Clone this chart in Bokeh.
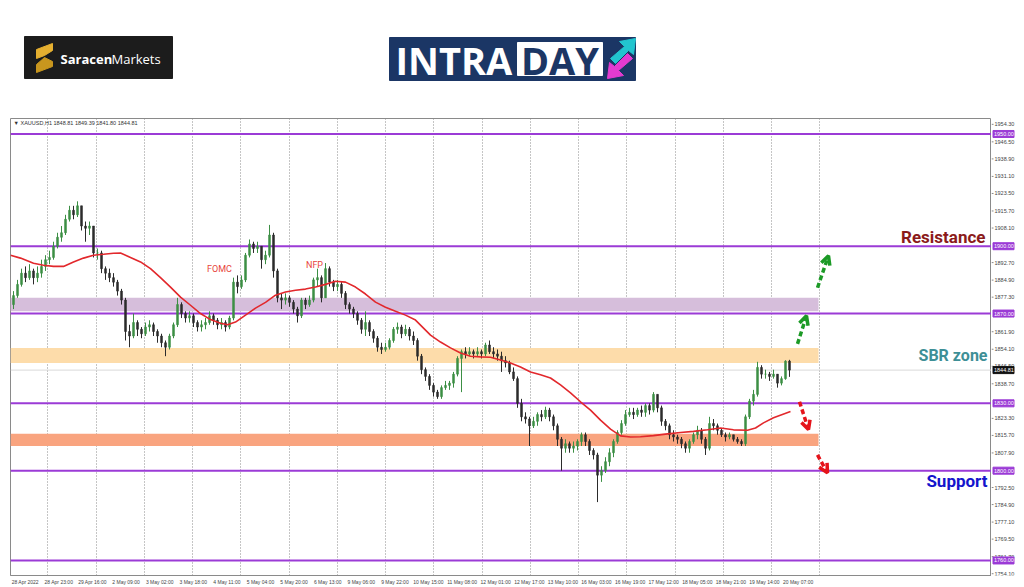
from bokeh.plotting import figure
from bokeh.layouts import column, row
from bokeh.models import (Range1d, FixedTicker, Span, Label, Arrow, OpenHead,
                          ColumnDataSource, BoxAnnotation)
from bokeh.core.properties import value
from bokeh.embed import file_html
from bokeh.resources import INLINE

# ---------------- data (2-hour candles) ----------------
first_open = 1874.0
closes = [1878, 1883, 1888, 1886, 1889, 1886, 1888, 1891, 1894, 1895,
          1900, 1904, 1906, 1912, 1916, 1914, 1918, 1909, 1908, 1909,
          1897, 1897, 1890, 1888, 1886, 1884, 1880, 1876, 1862, 1860,
          1866, 1863, 1861, 1864, 1865, 1862, 1860, 1857, 1855, 1860,
          1865, 1874, 1870, 1868, 1869, 1866, 1864, 1865, 1866, 1869,
          1867, 1865, 1866, 1864, 1868, 1884, 1882, 1885, 1896, 1901,
          1899, 1900, 1894, 1896, 1905, 1889, 1877, 1876, 1877, 1875,
          1872, 1869, 1876, 1874, 1876, 1885, 1886, 1877, 1890, 1884,
          1882, 1883, 1879, 1874, 1872, 1870, 1867, 1863, 1866, 1862,
          1859, 1855, 1854, 1855, 1858, 1863, 1864, 1861, 1863, 1860,
          1858, 1851, 1845, 1842, 1838, 1835, 1833, 1837, 1838, 1839,
          1843, 1850, 1853, 1852, 1853, 1852, 1853, 1852, 1856, 1853,
          1852, 1851, 1849, 1848, 1844, 1841, 1830, 1824, 1823, 1820,
          1822, 1825, 1824, 1827, 1824, 1820, 1814, 1810, 1812, 1810,
          1811, 1813, 1816, 1813, 1809, 1807, 1798, 1800, 1804, 1808,
          1813, 1817, 1821, 1825, 1826, 1825, 1827, 1826, 1829, 1827,
          1834, 1828, 1822, 1820, 1816, 1815, 1814, 1812, 1810, 1813,
          1816, 1818, 1814, 1810, 1821, 1820, 1818, 1816, 1815, 1816,
          1814, 1813, 1812, 1824, 1831, 1834, 1846, 1843, 1843, 1842,
          1843, 1839, 1841, 1848.81, 1844.81]
highs = [1880, 1885, 1890, 1891, 1892, 1890, 1891, 1894, 1896, 1898,
         1902, 1906, 1909, 1914, 1918, 1918, 1920, 1918, 1911, 1911,
         1909, 1899, 1898, 1891, 1890, 1888, 1885, 1881, 1877, 1865,
         1870, 1867, 1864, 1866, 1867, 1866, 1863, 1861, 1858, 1861,
         1866, 1877, 1875, 1871, 1871, 1870, 1867, 1867, 1868, 1871,
         1870, 1868, 1868, 1867, 1869, 1886, 1887, 1887, 1897, 1903,
         1902, 1902, 1900, 1898, 1909.5, 1906, 1890, 1879, 1879, 1878,
         1876, 1873, 1877, 1877, 1878, 1886, 1890, 1887, 1892.5, 1891,
         1885, 1885, 1884, 1880, 1875, 1873, 1871, 1868, 1871, 1867,
         1863, 1860, 1857, 1857, 1859, 1864, 1866, 1865, 1865, 1864,
         1862, 1859, 1852, 1846, 1843, 1839, 1836, 1838, 1840, 1840,
         1844, 1851, 1854, 1855, 1855, 1854, 1855, 1854, 1857, 1858,
         1855, 1854, 1853, 1851, 1849, 1846, 1842, 1832, 1826, 1824,
         1824, 1826, 1827, 1828.5, 1828, 1825, 1821, 1815, 1814, 1813,
         1813, 1814, 1817, 1817, 1814, 1810, 1808, 1802, 1806, 1810,
         1814, 1818, 1822.5, 1827, 1828, 1828, 1828, 1829, 1830, 1830,
         1835, 1834, 1829, 1823, 1821, 1818, 1816, 1815, 1813, 1814,
         1817, 1820, 1819, 1815, 1824, 1823, 1821, 1819, 1817, 1817,
         1816, 1815, 1814, 1825, 1832, 1836, 1848.5, 1847, 1845, 1844,
         1845, 1843, 1842, 1849.2, 1849.39]
lows = [1872, 1877, 1882, 1884, 1885, 1883, 1884, 1886, 1889, 1892,
        1894, 1899, 1902, 1905, 1911, 1912, 1913, 1907, 1902, 1905,
        1895, 1894, 1888, 1885, 1884, 1882, 1878, 1874, 1858, 1855,
        1859, 1860, 1859, 1860, 1862, 1860, 1857, 1855, 1851, 1854,
        1859, 1864, 1868, 1866, 1866, 1864, 1862, 1862, 1863, 1865,
        1865, 1863, 1863, 1862, 1863, 1867, 1879, 1881, 1884, 1895,
        1897, 1897, 1890, 1892, 1895, 1886, 1875, 1872, 1874, 1873,
        1870, 1866, 1868, 1872, 1873, 1875, 1882, 1875, 1877, 1882,
        1880, 1880, 1877, 1872, 1870, 1868, 1865, 1861, 1860, 1860,
        1857, 1853, 1852, 1853, 1854, 1857, 1861, 1859, 1860, 1858,
        1856, 1849, 1843, 1840, 1836, 1833, 1832, 1832, 1836, 1836,
        1837, 1842, 1835, 1850, 1851, 1850, 1851, 1850, 1851, 1852,
        1850, 1849, 1844, 1846, 1843, 1840, 1828, 1822, 1821, 1811,
        1819, 1820, 1822, 1823, 1822, 1818, 1811, 1800, 1808, 1808,
        1808, 1809, 1811, 1811, 1807, 1805, 1786, 1795, 1799, 1802,
        1806, 1812, 1816, 1820, 1824, 1823, 1824, 1824, 1824, 1825,
        1826, 1826, 1820, 1818, 1814, 1813, 1812, 1810, 1808, 1808,
        1812, 1814, 1812, 1807, 1809, 1818, 1816, 1815, 1813, 1814,
        1813, 1812, 1811, 1811, 1823, 1829, 1833, 1841, 1841, 1840,
        1841, 1837, 1838, 1840.5, 1841.80]

# moving average (bar index, price)
ma_x = [-0.75, 1.75, 5, 7.5, 10, 12.5, 15, 17.5, 20, 22.5, 25, 26.75, 29.25, 31.75,
        34.25, 36.75, 39.25, 41.75, 44.25, 46.75, 49.25, 51.75, 53.5, 55.5, 58, 60.5,
        63, 65.5, 68, 70.5, 73, 75.5, 78, 80.5, 83, 85.5, 88, 90.5, 93, 95.5, 98,
        100.5, 104.25, 106.75, 109.25, 111.75, 114.25, 116.75, 119.25, 121.75, 124.25,
        126.75, 129.25, 131.75, 134.25, 136.75, 139.25, 141.75, 144.25, 146.75, 149.25,
        151.75, 154.25, 156.75, 160, 163.5, 166.75, 170, 173.5, 176.75, 180, 183.5,
        185.5, 187.5, 190, 194.25]
ma_y = [1896, 1894.7, 1892.4, 1891.5, 1891, 1891, 1893, 1894.7, 1896, 1896.4, 1896.9,
        1897, 1895, 1893, 1890, 1886, 1881.8, 1877.3, 1873.7, 1870, 1867.3, 1865.7,
        1865, 1866.2, 1869.3, 1872.4, 1875, 1878.2, 1879.6, 1880.4, 1880.9, 1881.8,
        1883, 1884.4, 1884, 1881.8, 1878.7, 1875.1, 1872.8, 1871, 1869.3, 1867.1,
        1860.4, 1857.3, 1854.7, 1852.4, 1851, 1850.7, 1850.5, 1849.3, 1848, 1846.2,
        1844, 1842.7, 1841.3, 1838.2, 1834.7, 1830.7, 1827, 1822.5, 1818.5, 1815.5,
        1815, 1815.1, 1815.6, 1816.4, 1817, 1817.5, 1818.2, 1819, 1818.2, 1818, 1819,
        1821.3, 1823.6, 1826.4]

key_levels = [1950.0, 1900.0, 1870.0, 1830.0, 1800.0, 1760.0]
current_price = 1844.81
zone_bottoms = [1871.0, 1848.0, 1811.0]
zone_tops = [1877.0, 1854.7, 1816.5]
zone_colors = ["#d6bedb", "#fddcaa", "#f9a47f"]
zone_end = 201.25

y_ticks = [1954.30, 1946.50, 1938.90, 1931.10, 1923.50, 1915.70, 1908.10, 1892.70,
           1884.90, 1877.30, 1861.90, 1854.10, 1846.50, 1838.70, 1823.30, 1815.70,
           1807.90, 1792.50, 1784.90, 1777.10, 1769.50, 1761.70, 1754.10]
time_labels = ["28 Apr 2022", "28 Apr 23:00", "29 Apr 16:00", "2 May 09:00", "3 May 02:00",
               "3 May 18:00", "4 May 11:00", "5 May 04:00", "5 May 20:00", "6 May 13:00",
               "9 May 06:00", "9 May 22:00", "10 May 15:00", "11 May 08:00", "12 May 01:00",
               "12 May 17:00", "13 May 10:00", "16 May 03:00", "16 May 19:00", "17 May 12:00",
               "18 May 05:00", "18 May 21:00", "19 May 14:00", "20 May 07:00"]
LABEL_FIRST, LABEL_STEP = -0.25, 8.4
LABEL_CENTER_SHIFT = 3.2   # MT4 prints each time label to the right of its bar
GRID_FIRST, GRID_STEP, GRID_N = 8.6, 12.06, 17

# forecast arrows
arrow_x0 = [196.0, 201.0, 196.5, 201.0]
arrow_y0 = [1856.5, 1881.5, 1830.7, 1807.0]
arrow_x1 = [198.25, 203.75, 198.75, 203.5]
arrow_y1 = [1869.0, 1895.8, 1818.3, 1799.0]
arrow_colors = ["#1c9a26", "#1c9a26", "#e5141b", "#e5141b"]

PURPLE = "#9b3bd6"
GREY = "#8a8a8a"

# ---------------- candles ----------------
n = len(closes)
opens = [first_open] + closes[:-1]
idx = list(range(n))
hi = [max(h, o, c) for h, o, c in zip(highs, opens, closes)]
lo = [min(l, o, c) for l, o, c in zip(lows, opens, closes)]
body_top = [max(o, c) for o, c in zip(opens, closes)]
body_bot = [min(o, c) for o, c in zip(opens, closes)]
col = ["#3c8f44" if c >= o else "#2b2b2b" for o, c in zip(opens, closes)]
src = ColumnDataSource(dict(x=idx, hi=hi, lo=lo, top=body_top, bot=body_bot, col=col))

X0, X1 = -0.75, 244.5
Y0, Y1 = 1753.3, 1956.9
H_MAIN = 471
p = figure(width=991, height=H_MAIN, x_range=Range1d(X0, X1), y_range=Range1d(Y0, Y1),
           y_axis_location=None, toolbar_location=None, output_backend="svg",
           min_border_left=10, min_border_right=0, min_border_top=2, min_border_bottom=12)
p.background_fill_color = "white"
p.border_fill_color = "white"
p.outline_line_color = GREY
p.outline_line_width = 1

p.ygrid.visible = False
p.xgrid.ticker = FixedTicker(ticks=[round(GRID_FIRST + GRID_STEP * j, 2) for j in range(GRID_N)])
p.xgrid.grid_line_color = GREY
p.xgrid.grid_line_dash = "1 2"

label_pos = [round(LABEL_FIRST + LABEL_CENTER_SHIFT + LABEL_STEP * i, 2)
             for i in range(len(time_labels))]
p.xaxis.ticker = FixedTicker(ticks=label_pos)
p.xaxis.major_label_overrides = dict(zip(label_pos, time_labels))
p.xaxis.major_label_text_font_size = "5px"
p.xaxis.major_label_text_color = "#444444"
p.xaxis.major_label_standoff = 3
p.xaxis.major_tick_out = 0
p.xaxis.major_tick_in = 0
p.xaxis.minor_tick_out = 0
p.xaxis.minor_tick_in = 0
p.xaxis.axis_line_color = GREY

for b, t, c in zip(zone_bottoms, zone_tops, zone_colors):
    p.add_layout(BoxAnnotation(bottom=b, top=t, right=zone_end, fill_color=c, fill_alpha=1.0,
                               line_color=None, level="underlay"))
p.add_layout(Span(location=current_price, dimension="width", line_color="#d9d9d9",
                  line_width=1, level="underlay"))
for lv in key_levels:
    p.add_layout(Span(location=lv, dimension="width", line_color=PURPLE, line_width=2,
                      level="underlay"))

p.segment(x0="x", y0="hi", x1="x", y1="lo", color="col", line_width=1, source=src)
p.vbar(x="x", width=0.5, top="top", bottom="bot", fill_color="col", line_color="col",
       line_width=0.5, source=src)

p.line(ma_x, ma_y, line_color="#e2282c", line_width=1.6)

for x0, y0, x1, y1, c in zip(arrow_x0, arrow_y0, arrow_x1, arrow_y1, arrow_colors):
    p.add_layout(Arrow(x_start=x0, y_start=y0, x_end=x1, y_end=y1, line_color=c,
                       line_width=3.5, line_dash="5 3", start=None,
                       end=OpenHead(size=9, line_color=c, line_width=3.5)))

p.add_layout(Label(x=0, y=1954.7, text="\u25bc XAUUSD,H1  1848.81 1849.39 1841.80 1844.81",
                   text_baseline="middle", text_font_size="5.5px", text_color="#333333"))
p.add_layout(Label(x=51.5, y=1889.8, text="FOMC", text_align="center", text_baseline="middle",
                   text_font="Roboto", text_font_size="9px", text_color="#e8453c"))
p.add_layout(Label(x=75.25, y=1891.6, text="NFP", text_align="center", text_baseline="middle",
                   text_font="Roboto", text_font_size="9px", text_color="#e8453c"))
p.add_layout(Label(x=243.0, y=1904.0, text="Resistance", text_align="right",
                   text_baseline="middle", text_font="Roboto", text_font_style="bold",
                   text_font_size="17px", text_color="#8b1a1a"))
p.add_layout(Label(x=243.5, y=1851.1, text="SBR zone", text_align="right",
                   text_baseline="middle", text_font="Roboto", text_font_style="bold",
                   text_font_size="16px", text_color="#3e8f96"))
p.add_layout(Label(x=243.5, y=1795.6, text="Support", text_align="right",
                   text_baseline="middle", text_font="Roboto", text_font_style="bold",
                   text_font_size="17px", text_color="#1414cc"))

# ---------------- price scale (shares the chart's y range) ----------------
side = figure(width=25, height=H_MAIN, x_range=Range1d(0, 25), y_range=p.y_range,
              x_axis_location=None, y_axis_location=None, toolbar_location=None,
              output_backend="svg", min_border_left=0, min_border_right=0,
              min_border_top=2, min_border_bottom=12)
side.outline_line_color = None
side.grid.visible = False
side.background_fill_color = "white"
side.border_fill_color = "white"
side.segment(x0=0, y0=y_ticks, x1=2, y1=y_ticks, line_color=GREY, line_width=1)
side.text(x=3, y=y_ticks, text=[f"{v:.2f}" for v in y_ticks], text_font_size="5.5px",
          text_color="#444444", text_baseline="middle")
side.rect(x=12, y=key_levels, width=21, height=7, width_units="screen", height_units="screen",
          fill_color=PURPLE, line_color=PURPLE)
side.text(x=2.5, y=key_levels, text=[f"{v:.2f}" for v in key_levels], text_font_size="5.5px",
          text_color="white", text_baseline="middle")
side.rect(x=[12], y=[current_price], width=21, height=7, width_units="screen",
          height_units="screen", fill_color="#111111", line_color="#111111")
side.text(x=[2.5], y=[current_price], text=[f"{current_price:.2f}"], text_font_size="5.5px",
          text_color="white", text_baseline="middle")

# ---------------- header with logos ----------------
hdr = figure(width=1016, height=116, x_range=Range1d(0, 1016), y_range=Range1d(116, 0),
             toolbar_location=None, output_backend="svg", min_border=0)
hdr.axis.visible = False
hdr.grid.visible = False
hdr.outline_line_color = None
hdr.background_fill_color = "white"
hdr.border_fill_color = "white"

hdr.quad(left=[24], right=[172], top=[36], bottom=[78], color="#1c1c1c")
hdr.patch([36, 52, 52, 44, 36], [49, 43, 50, 55, 58], color="#e6b030")
hdr.patch([44, 52, 52, 36, 36], [57, 61, 66, 72, 64], color="#c8961e")
hdr.text(x=[60], y=[58], text=["Saracen"], text_font=value("Open Sans"), text_font_style="bold",
         text_font_size="13px", text_color="white", text_baseline="middle")
hdr.text(x=[111], y=[58], text=["Markets"], text_font=value("Open Sans"),
         text_font_size="13px", text_color="white", text_baseline="middle")

hdr.quad(left=[389], right=[635], top=[37], bottom=[80], color="#1b3665")
hdr.quad(left=[517], right=[602], top=[42], bottom=[75], color="white")
hdr.text(x=[395], y=[59], text=["INTRA"], text_font=value("Open Sans"), text_font_style="bold",
         text_font_size="38px", text_color="white", text_baseline="middle")
hdr.text(x=[559.5], y=[59], text=["DAY"], text_font=value("Open Sans"), text_font_style="bold",
         text_font_size="38px", text_color="#1b3665", text_baseline="middle", text_align="center")
hdr.patch([610, 624, 619, 635, 633, 628, 615], [58, 46, 41, 38, 54, 50, 63], color="#22c5cf")
hdr.patch([632, 618, 623, 607, 609, 614, 627], [58, 70, 75, 78, 62, 66, 53], color="#e33bd0")

layout = column(hdr, row(p, side))
open("out.html", "w").write(file_html(layout, INLINE))
